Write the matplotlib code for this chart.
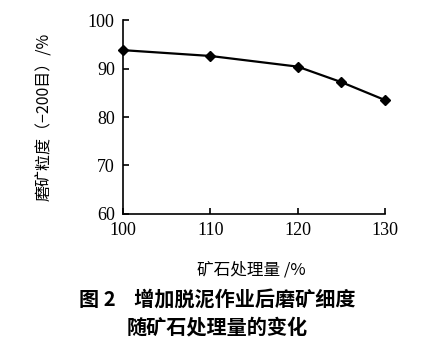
import matplotlib
matplotlib.use("Agg")
import matplotlib.pyplot as plt

x_vals = [100, 110, 120, 125, 130]
y_vals = [93.8, 92.6, 90.4, 87.2, 83.5]
x_ticks = [100, 110, 120, 130]
y_ticks = [60, 70, 80, 90, 100]
y_label = "磨矿粒度（−200目）/%"
x_label = "矿石处理量 /%"
caption1 = "图 2    增加脱泥作业后磨矿细度"
caption2 = "随矿石处理量的变化"

cjk = ["Noto Sans CJK SC", "DejaVu Sans"]
serif = ["Liberation Serif", "DejaVu Serif"]

fig = plt.figure(figsize=(4.35, 3.53), dpi=100)
ax = fig.add_axes([0.283, 0.394, 0.602, 0.549])
ax.plot(x_vals, y_vals, color="black", lw=1.6, marker="D", ms=5, clip_on=False)
ax.set_xlim(100, 130)
ax.set_ylim(60, 100)
ax.set_xticks(x_ticks)
ax.set_yticks(y_ticks)
for s in ["top", "right"]:
    ax.spines[s].set_visible(False)
for s in ["left", "bottom"]:
    ax.spines[s].set_linewidth(1.2)
ax.tick_params(direction="in", length=4, width=1.2, labelsize=13, pad=6)
for lbl in ax.get_xticklabels() + ax.get_yticklabels():
    lbl.set_family(serif)

fig.text(0.103, 0.668, y_label, rotation=90, ha="center", va="center",
         fontsize=11.5, family=cjk)
fig.text(0.578, 0.235, x_label, ha="center", va="center", fontsize=12, family=cjk)
fig.text(0.5, 0.152, caption1, ha="center", va="center", fontsize=14.5,
         fontweight="bold", family=cjk)
fig.text(0.5, 0.075, caption2, ha="center", va="center", fontsize=14.5,
         fontweight="bold", family=cjk)

fig.savefig("out.png", dpi=100)
